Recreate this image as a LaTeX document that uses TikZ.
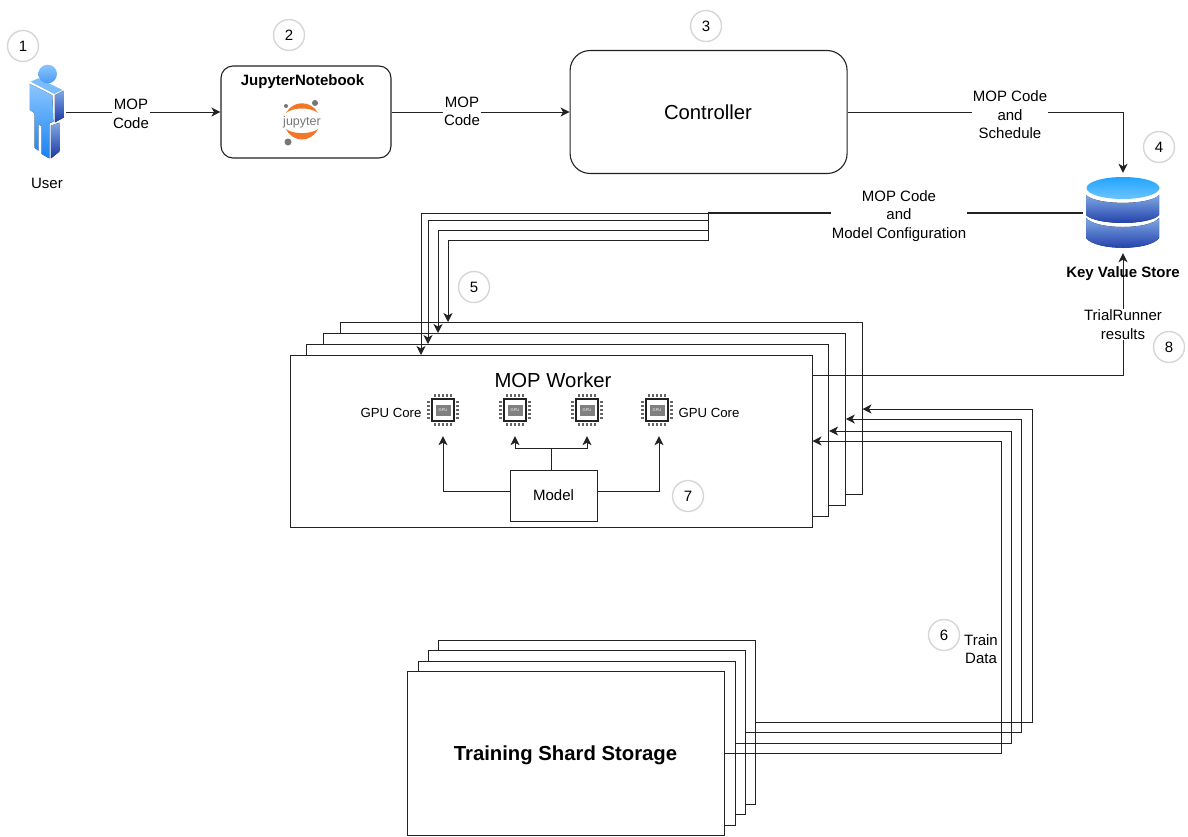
\documentclass[tikz,border=0pt]{standalone}
\usepackage{fontspec}
\setmainfont{Liberation Sans}
\usetikzlibrary{arrows.meta,calc,positioning}
\definecolor{StepRing}{HTML}{D6D6D6}
\definecolor{LineDark}{HTML}{222222}
\definecolor{DiskLight}{HTML}{7FA8E4}
\definecolor{DiskDark}{HTML}{1A38A6}
\definecolor{DiskTopA}{HTML}{22A4FF}
\definecolor{DiskTopB}{HTML}{6CC5FF}
\definecolor{UserLight}{HTML}{8CC6FF}
\definecolor{UserMid}{HTML}{1A82F2}
\definecolor{JupyterOrange}{HTML}{F37726}
\definecolor{JupyterGray}{HTML}{767677}

\begin{document}
\begin{tikzpicture}[
    x=1pt,y=-1pt,
    plaintext/.style={align=center,inner sep=1pt,font=\fontsize{15}{18.5}\selectfont},
    edgetext/.style={plaintext,fill=white},
    boldtext/.style={plaintext,font=\bfseries\fontsize{15}{18.5}\selectfont},
    bigtext/.style={plaintext,font=\fontsize{20.3}{24}\selectfont},
    smalltext/.style={plaintext,font=\fontsize{13.2}{16}\selectfont},
    roundbox/.style={draw=LineDark,fill=white,line width=1.1pt,inner sep=0pt},
    worksheet/.style={draw=LineDark,fill=white,line width=1pt,inner sep=0pt,
      minimum width=522pt,minimum height=172pt},
    shardsheet/.style={draw=LineDark,fill=white,line width=1pt,inner sep=0pt,
      minimum width=317pt,minimum height=164pt},
    marker/.style={circle,draw=StepRing,fill=white,line width=1.4pt,inner sep=0pt,
      minimum size=31pt,font=\fontsize{15}{18}\selectfont},
    coretarget/.style={inner sep=0pt,minimum size=52pt},
    flow/.style={-{Stealth[length=9pt,width=9pt,inset=2.5pt]},line width=1pt,color=LineDark},
    plainflow/.style={line width=1pt,color=LineDark},
    heavyflow/.style={line width=1.5pt,color=LineDark},
    gpuchip/.pic={
      \draw[color=LineDark,line width=1.2pt] (-11,-11) rectangle (11,11);
      \fill[color=black!50] (-7.5,-5.5) rectangle (7.5,5.5);
      \node[inner sep=0pt,text=white,font=\fontsize{4}{4}\selectfont] (-chiptext) at (0,0) {GPU};
      \foreach \p in {-8,-4,0,4,8} {
        \draw[color=black!60,line width=1.3pt] (\p,-16) -- (\p,-13);
        \draw[color=black!60,line width=1.3pt] (\p,13) -- (\p,16);
        \draw[color=black!60,line width=1.3pt] (-16,\p) -- (-13,\p);
        \draw[color=black!60,line width=1.3pt] (13,\p) -- (16,\p);
      }
    }
  ]
    \useasboundingbox (0,0) rectangle (1188,836);

    \begin{scope}[shift={(20,60)},x=.3333pt,y=-.3333pt]
      \fill[top color=UserLight,bottom color=UserMid]
        (30,72) -- (97,106) -- (100,185) -- (88,190) -- (88,295) -- (65,282) -- (65,198)
        -- (55,193) -- (55,272) -- (44,263) -- (44,160) -- (30,150) -- cycle;
      \fill[color=UserLight!85!UserMid] (32,65) -- (55,55) -- (128,90) -- (103,102) -- cycle;
      \fill[top color=DiskLight,bottom color=DiskDark]
        (105,105) -- (132,92) -- (132,172) -- (105,187) -- cycle;
      \fill[top color=DiskLight,bottom color=DiskDark]
        (93,197) -- (118,188) -- (118,275) -- (93,295) -- cycle;
      \shade[top color=UserLight,bottom color=UserMid!80!white] (83,42) circle [radius=28];
    \end{scope}
    \coordinate (userhand) at (66,112);
    \node[plaintext] (usertext) at (47,183) {User};

    \node[roundbox,rounded corners=12pt,minimum width=170pt,minimum height=92pt] (jupyter) at (306,112) {};
    \node[boldtext] (jupytertext) at (302.5,81.5) {JupyterNotebook};
    \fill[color=JupyterOrange] (286,113) .. controls (293,100) and (311,100) .. (318,113)
      .. controls (311,107) and (293,107) .. cycle;
    \fill[color=JupyterOrange] (286,129) .. controls (293,143) and (311,143) .. (318,129)
      .. controls (311,134.5) and (293,134.5) .. cycle;
    \fill[color=JupyterGray] (315,103) circle [radius=3];
    \fill[color=JupyterGray] (286,106) circle [radius=2];
    \fill[color=JupyterGray] (288,142) circle [radius=3.5];
    \node[inner sep=0pt,text=JupyterGray,font=\fontsize{12.5}{14}\selectfont] (jupyterlogo) at (302,122) {jupyter};

    \node[roundbox,rounded corners=20pt,minimum width=277pt,minimum height=123pt,
      right=178pt of jupyter] (controller) {};
    \node[bigtext] (controllertext) at (708,112) {Controller};

    \node[minimum width=80pt,minimum height=80pt,inner sep=0pt] (kvs) at (1123,213) {};
    \fill[top color=DiskLight,bottom color=DiskDark] (1086,195)
      .. controls (1096,205.5) and (1150,205.5) .. (1159,195) -- (1159,215)
      .. controls (1150,225.5) and (1096,225.5) .. (1086,215) -- cycle;
    \fill[top color=DiskLight,bottom color=DiskDark] (1086,218)
      .. controls (1096,230) and (1150,230) .. (1159,218) -- (1159,238)
      .. controls (1150,251) and (1096,251) .. (1086,238) -- cycle;
    \shade[top color=DiskTopA,bottom color=DiskTopB] (1123,188) ellipse [x radius=36.5,y radius=11];

    \node[worksheet] (worker4) at (601,408.5) {};
    \node[worksheet] (worker3) at ([shift={(-16.7,11)}]worker4.center) {};
    \node[worksheet] (worker2) at ([shift={(-16.7,11)}]worker3.center) {};
    \node[worksheet] (worker1) at ([shift={(-16.6,11)}]worker2.center) {};
    \node[bigtext] (workertext) at (553,380) {MOP Worker};

    \node[coretarget] (core1) at (443,410) {};
    \node[coretarget] (core2) at (515,410) {};
    \node[coretarget] (core3) at (587,410) {};
    \node[coretarget] (core4) at (659,410) {};
    \pic (chip1) at (core1) {gpuchip};
    \pic (chip2) at (core2) {gpuchip};
    \pic (chip3) at (core3) {gpuchip};
    \pic (chip4) at ([xshift=-2pt]core4.center) {gpuchip};
    \node[smalltext] (coretext1) at (391,412.5) {GPU Core};
    \node[smalltext] (coretext2) at (709,412.5) {GPU Core};
    \node[draw=LineDark,line width=1pt,minimum width=87pt,minimum height=51pt,inner sep=0pt,
      font=\fontsize{15}{18}\selectfont] (model) at (553.5,495.5) {Model};

    \node[shardsheet] (shard4) at (597,722) {};
    \node[shardsheet] (shard3) at ([shift={(-10.5,10)}]shard4.center) {};
    \node[shardsheet] (shard2) at ([shift={(-10,11)}]shard3.center) {};
    \node[shardsheet] (shard1) at ([shift={(-11,10)}]shard2.center) {};
    \node[plaintext,font=\bfseries\fontsize{20.3}{24}\selectfont] (shardtext) at (565.5,755) {Training Shard Storage};

    \draw[flow] (userhand) -- (jupyter.west);
    \draw[flow] (jupyter.east) -- (controller.west);
    \draw[flow] (controller.east) -| (kvs.north);
    \node[edgetext] (usercode) at (131,114) {MOP\\Code};
    \node[edgetext] (notebookcode) at (462,111.5) {MOP\\Code};
    \node[edgetext] (schedule) at (1010,115) {MOP Code\\and\\Schedule};

    \coordinate (busend) at (708,213);
    \draw[heavyflow] (kvs.west) -- (busend);
    \node[edgetext] (modelconfig) at (899,216) {MOP Code\\and\\Model Configuration};
    \draw[flow] (busend) -- (421,213) -- (421,213 |- worker1.north);
    \draw[flow] (busend) |- (428,220) -- (428,220 |- worker2.north);
    \draw[flow] (busend) |- (438,230) -- (438,230 |- worker3.north);
    \draw[flow] (busend) |- (448,240) -- (448,240 |- worker4.north);

    \coordinate (results) at (812,375);
    \draw[flow] (results) -| (kvs.south);
    \node[edgetext] (trialtext) at (1123,324.5) {TrialRunner\\results};
    \node[boldtext] (kvstext) at (1123,273.5) {Key Value Store};

    \draw[flow] (shard1.east) -| (1001,441) -- (1001,441 -| worker1.east);
    \draw[flow] (shard2.east) -| (1011,431) -- (1011,431 -| worker2.east);
    \draw[flow] (shard3.east) -| (1021,419) -- (1021,419 -| worker3.east);
    \draw[flow] (shard4.east) -| (1032,409) -- (1032,409 -| worker4.east);
    \node[plaintext] (traintext) at (981,649) {Train\\Data};

    \coordinate (modelsplit) at (551,448);
    \draw[flow] ([yshift=4.5pt]model.west) -| (core1.south);
    \draw[flow] ([yshift=4.5pt]model.east) -| (core4.south);
    \draw[plainflow] (model.north -| modelsplit) -- (modelsplit);
    \draw[flow] (modelsplit) -| (core2.south);
    \draw[flow] (modelsplit) -| (core3.south);

    \node[marker] (step1) at (23,46) {1};
    \node[marker] (step2) at (289,35) {2};
    \node[marker] (step3) at (706,26) {3};
    \node[marker] (step4) at (1159,147) {4};
    \node[marker] (step5) at (474,287) {5};
    \node[marker] (step6) at (944,635) {6};
    \node[marker] (step7) at (688,496) {7};
    \node[marker] (step8) at (1169,347) {8};
  \end{tikzpicture}
\end{document}
